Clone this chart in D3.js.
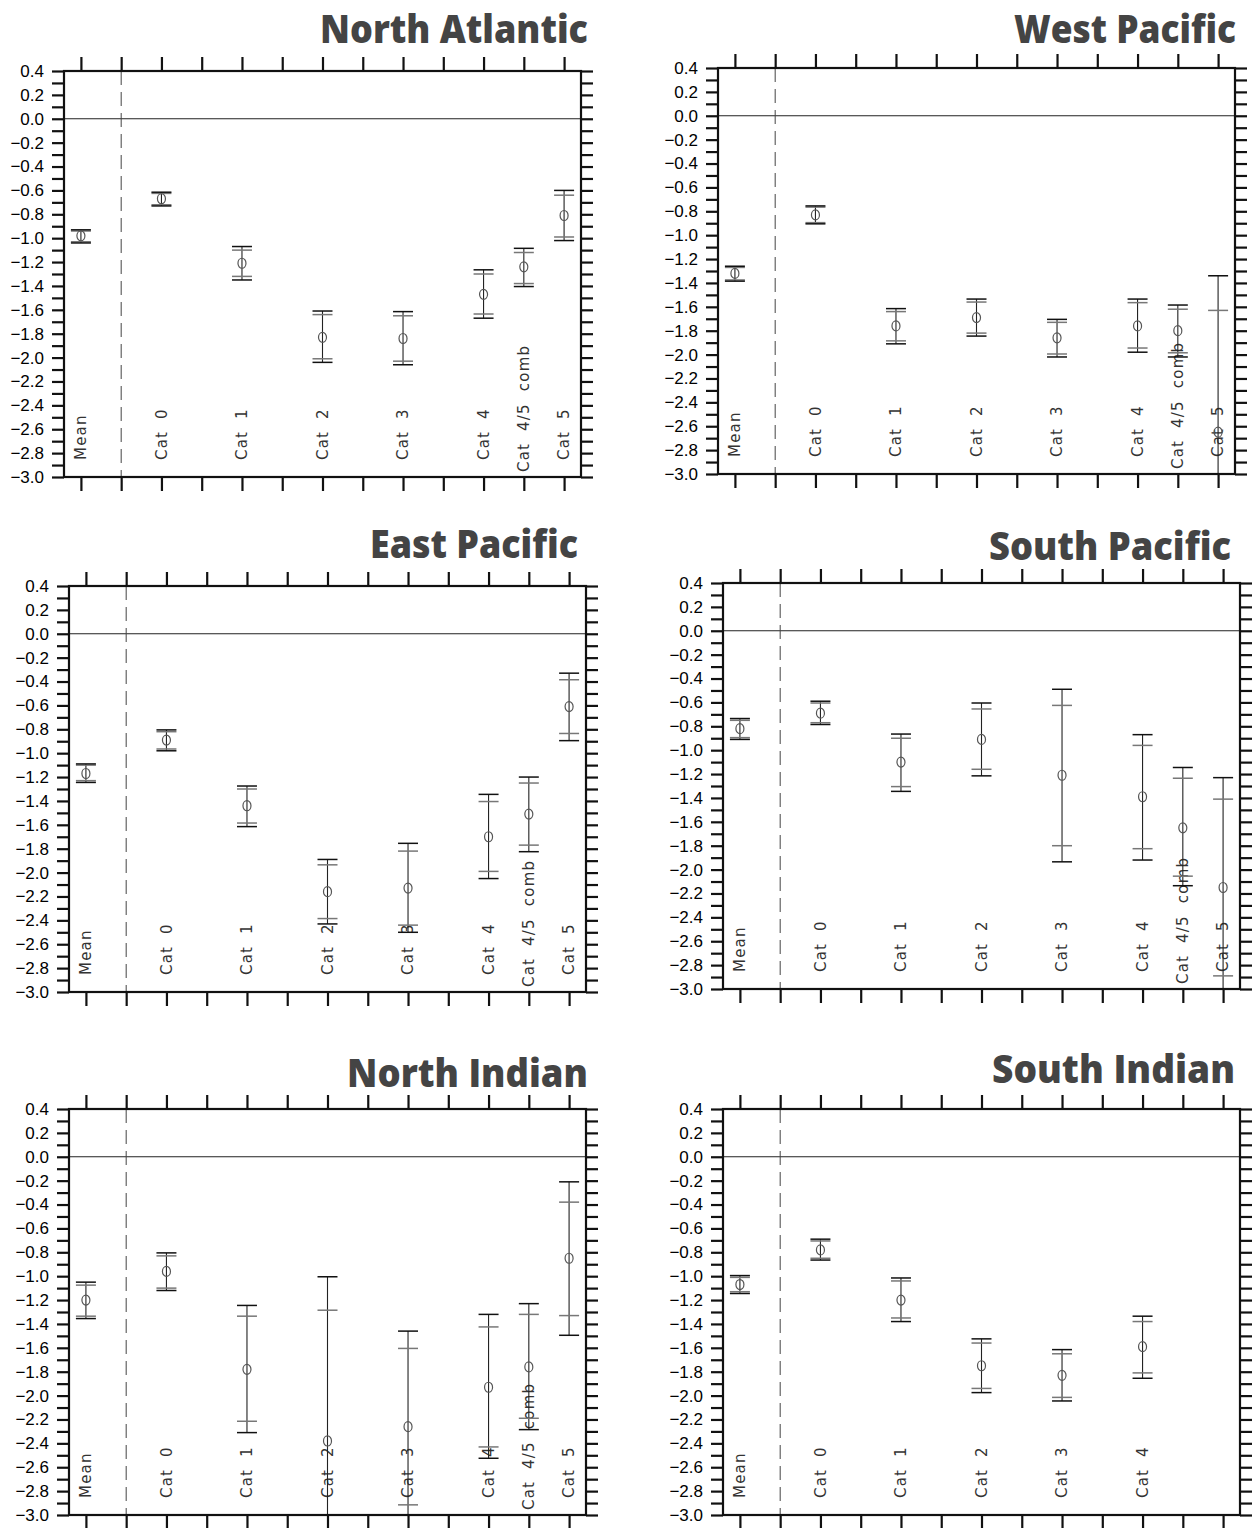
<!DOCTYPE html>
<html>
<head>
<meta charset="utf-8">
<script src="https://cdn.jsdelivr.net/npm/d3@7"></script>
<style>
  body { margin: 0; background: #fff; }
  svg { display: block; }
</style>
</head>
<body>
<svg id="chart" width="1258" height="1528"></svg>
<script>
// x slots of every panel: 13 tick positions, the second one is the dashed separator
const xSlots = ['Mean', 'sep', 'Cat 0', 'g1', 'Cat 1', 'g2', 'Cat 2', 'g3', 'Cat 3', 'g4', 'Cat 4', 'Cat 4/5 comb', 'Cat 5'];
const categories = ['Mean', 'Cat 0', 'Cat 1', 'Cat 2', 'Cat 3', 'Cat 4', 'Cat 4/5 comb', 'Cat 5'];
const regions = ['North Atlantic', 'West Pacific', 'East Pacific', 'South Pacific', 'North Indian', 'South Indian'];
const yTickValues = d3.range(-30, 5).map(i => i / 10);

// one row per region, one value per category (South Indian has no Cat 4/5, Cat 5)
const centre = [
    [-0.98, -0.67, -1.21, -1.83, -1.84, -1.47, -1.24, -0.81],
    [-1.32, -0.83, -1.76, -1.69, -1.86, -1.76, -1.80, -2.65],
    [-1.17, -0.89, -1.44, -2.16, -2.13, -1.70, -1.51, -0.61],
    [-0.82, -0.69, -1.10, -0.91, -1.21, -1.39, -1.65, -2.15],
    [-1.20, -0.96, -1.78, -2.38, -2.26, -1.93, -1.76, -0.85],
    [-1.07, -0.78, -1.20, -1.75, -1.83, -1.59]
];
const outerHigh = [
    [-0.93, -0.615, -1.07, -1.61, -1.615, -1.265, -1.085, -0.60],
    [-1.26, -0.755, -1.615, -1.535, -1.705, -1.535, -1.585, -1.34],
    [-1.09, -0.805, -1.275, -1.89, -1.755, -1.345, -1.20, -0.33],
    [-0.735, -0.59, -0.865, -0.605, -0.49, -0.87, -1.145, -1.23],
    [-1.05, -0.805, -1.245, -1.005, -1.46, -1.32, -1.23, -0.21],
    [-0.995, -0.69, -1.015, -1.525, -1.615, -1.335]
];
const innerHigh = [
    [-0.94, -0.625, -1.10, -1.64, -1.65, -1.30, -1.12, -0.64],
    [-1.27, -0.765, -1.64, -1.56, -1.73, -1.565, -1.62, -1.63],
    [-1.10, -0.82, -1.30, -1.935, -1.82, -1.405, -1.25, -0.385],
    [-0.75, -0.605, -0.90, -0.655, -0.625, -0.96, -1.235, -1.41],
    [-1.075, -0.83, -1.335, -1.285, -1.605, -1.425, -1.32, -0.38],
    [-1.01, -0.705, -1.04, -1.56, -1.65, -1.38]
];
const innerLow = [
    [-1.03, -0.72, -1.32, -2.01, -2.03, -1.635, -1.38, -0.99],
    [-1.375, -0.895, -1.885, -1.82, -1.995, -1.945, -1.985, -3.67],
    [-1.23, -0.965, -1.585, -2.385, -2.44, -1.99, -1.77, -0.835],
    [-0.895, -0.77, -1.305, -1.16, -1.80, -1.825, -2.055, -2.89],
    [-1.335, -1.10, -2.215, -3.48, -2.915, -2.43, -2.19, -1.33],
    [-1.13, -0.85, -1.35, -1.94, -2.015, -1.81]
];
const outerLow = [
    [-1.04, -0.73, -1.35, -2.04, -2.06, -1.67, -1.405, -1.02],
    [-1.385, -0.905, -1.91, -1.845, -2.02, -1.98, -2.02, -3.96],
    [-1.245, -0.98, -1.615, -2.43, -2.50, -2.05, -1.825, -0.895],
    [-0.91, -0.785, -1.345, -1.215, -1.935, -1.92, -2.135, -3.07],
    [-1.355, -1.12, -2.31, -3.76, -3.06, -2.525, -2.285, -1.495],
    [-1.145, -0.865, -1.38, -1.975, -2.045, -1.855]
];

// plot box of each panel and where its title sits
const panels = [
    { left: 64,  top: 71,   titleX: 588,  titleY: 43,   titleW: 268 },
    { left: 718, top: 68,   titleX: 1236, titleY: 43,   titleW: 222 },
    { left: 69,  top: 586,  titleX: 578,  titleY: 558,  titleW: 208 },
    { left: 723, top: 583,  titleX: 1231, titleY: 560,  titleW: 242 },
    { left: 69,  top: 1109, titleX: 588,  titleY: 1087, titleW: 241 },
    { left: 723, top: 1109, titleX: 1235, titleY: 1083, titleW: 243 }
];
const W = 517, H = 406;
const CAP = 10;

const svg = d3.select('#chart');
const fmt = d3.format('.1f');

regions.forEach(function(name, r) {
    const p = panels[r];
    const g = svg.append('g').attr('transform', 'translate(' + p.left + ',' + p.top + ')');

    const x = d3.scalePoint().domain(xSlots).range([0, W]).padding(0.42);
    const y = d3.scaleLinear().domain([-3.0, 0.4]).range([H, 0]);

    svg.append('text')
        .attr('x', p.titleX)
        .attr('y', p.titleY)
        .attr('text-anchor', 'end')
        .attr('font-family', '"Open Sans", "Noto Sans", sans-serif')
        .attr('font-weight', 800)
        .attr('font-size', 39)
        .attr('fill', '#444')
        .attr('textLength', p.titleW)
        .attr('lengthAdjust', 'spacingAndGlyphs')
        .text(name);

    // axes
    const left = g.append('g')
        .call(d3.axisLeft(y).tickValues(yTickValues).tickSize(12).tickPadding(8)
            .tickFormat(d => Math.round(d * 10) % 2 === 0 ? fmt(d) : ''));
    const right = g.append('g').attr('transform', 'translate(' + W + ',0)')
        .call(d3.axisRight(y).tickValues(yTickValues).tickSize(12).tickFormat(''));
    const top = g.append('g')
        .call(d3.axisTop(x).tickSize(14).tickFormat(''));
    const bottom = g.append('g').attr('transform', 'translate(0,' + H + ')')
        .call(d3.axisBottom(x).tickSize(14).tickFormat(''));
    [left, right, top, bottom].forEach(function(a) {
        a.select('.domain').remove();
        a.selectAll('line').attr('stroke', '#111').attr('stroke-width', 2.2);
    });
    left.selectAll('text')
        .attr('font-family', '"Liberation Sans", Arial, sans-serif')
        .attr('font-size', 17)
        .attr('fill', '#000');

    // zero line and separator
    g.append('line')
        .attr('x1', 0).attr('x2', W)
        .attr('y1', y(0)).attr('y2', y(0))
        .attr('stroke', '#222').attr('stroke-width', 1);
    g.append('line')
        .attr('x1', x('sep')).attr('x2', x('sep'))
        .attr('y1', 0).attr('y2', H)
        .attr('stroke', '#444').attr('stroke-width', 1)
        .attr('stroke-dasharray', '14,7');

    g.append('clipPath').attr('id', 'clip' + r)
        .append('rect').attr('width', W).attr('height', H);

    const rows = centre[r].map(function(v, i) {
        return {
            cat: categories[i], v: v,
            oh: outerHigh[r][i], ih: innerHigh[r][i],
            il: innerLow[r][i], ol: outerLow[r][i]
        };
    });

    // category labels
    g.selectAll('text.cat')
        .data(rows)
        .join('text')
        .attr('class', 'cat')
        .attr('transform', d => 'translate(' + x(d.cat) + ',' + (H - (d.cat === 'Cat 4/5 comb' ? 5 : 17)) + ') rotate(-90)')
        .attr('dy', '0.35em')
        .attr('font-family', '"DejaVu Sans", sans-serif')
        .attr('font-size', 15)
        .attr('letter-spacing', 1.2)
        .attr('word-spacing', 6)
        .attr('fill', '#333')
        .text(d => d.cat);

    const bars = g.append('g').attr('clip-path', 'url(#clip' + r + ')')
        .selectAll('g')
        .data(rows)
        .join('g')
        .attr('transform', d => 'translate(' + x(d.cat) + ',0)');

    bars.append('line')
        .attr('y1', d => y(d.oh)).attr('y2', d => y(d.ol))
        .attr('stroke', '#222').attr('stroke-width', 1.1);
    ['ih', 'il'].forEach(function(k) {
        bars.append('line')
            .attr('x1', -CAP).attr('x2', CAP)
            .attr('y1', d => y(d[k])).attr('y2', d => y(d[k]))
            .attr('stroke', '#777').attr('stroke-width', 1.5);
    });
    ['oh', 'ol'].forEach(function(k) {
        bars.append('line')
            .attr('x1', -CAP).attr('x2', CAP)
            .attr('y1', d => y(d[k])).attr('y2', d => y(d[k]))
            .attr('stroke', '#111').attr('stroke-width', 1.5);
    });
    bars.append('ellipse')
        .attr('cy', d => y(d.v))
        .attr('rx', 4).attr('ry', 5)
        .attr('fill', 'none')
        .attr('stroke', '#555').attr('stroke-width', 1.2);

    // plot frame
    g.append('rect')
        .attr('width', W).attr('height', H)
        .attr('fill', 'none')
        .attr('stroke', '#111').attr('stroke-width', 2.2);
});
</script>
</body>
</html>
